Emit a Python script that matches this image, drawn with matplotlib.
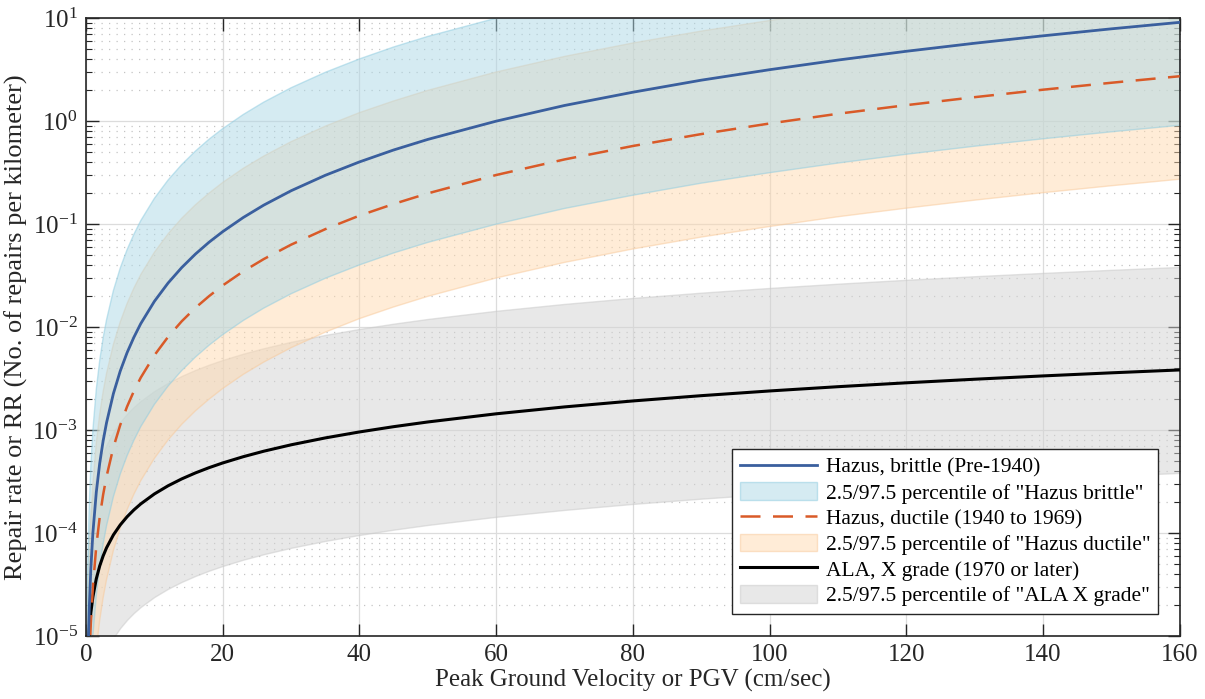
import matplotlib
matplotlib.use('Agg')
import matplotlib.pyplot as plt
from matplotlib.ticker import LogLocator, NullFormatter, MultipleLocator

plt.rcParams['font.family'] = ['Liberation Serif', 'DejaVu Serif']
plt.rcParams['mathtext.fontset'] = 'custom'
plt.rcParams['mathtext.rm'] = 'Liberation Serif'
plt.rcParams['mathtext.it'] = 'Liberation Serif:italic'

# PGV в см/с
pgv = [0.1, 0.15, 0.2, 0.25, 0.3, 0.4, 0.5, 0.7, 1, 1.5, 2, 2.5, 3, 4, 5, 6, 7, 8,
       10, 12, 14, 16, 18, 20, 23, 26, 30, 35, 40, 45, 50, 60, 70, 80, 90, 100,
       110, 120, 130, 140, 150, 160]

# Hazus, brittle (до 1940)
brittle = [5.62e-7, 1.40e-6, 2.68e-6, 4.42e-6, 6.66e-6, 1.27e-5, 2.10e-5, 4.48e-5,
           1.00e-4, 2.49e-4, 4.76e-4, 7.86e-4, 1.18e-3, 2.26e-3, 3.74e-3, 5.64e-3,
           7.97e-3, 1.08e-2, 1.78e-2, 2.68e-2, 3.79e-2, 5.12e-2, 6.68e-2, 8.46e-2,
           0.116, 0.153, 0.211, 0.298, 0.402, 0.525, 0.665, 1.00, 1.42, 1.91, 2.50,
           3.16, 3.92, 4.77, 5.71, 6.74, 7.88, 9.11]
brittle_lo = [5.62e-8, 1.40e-7, 2.68e-7, 4.42e-7, 6.66e-7, 1.27e-6, 2.10e-6, 4.48e-6,
              1.00e-5, 2.49e-5, 4.76e-5, 7.86e-5, 1.18e-4, 2.26e-4, 3.74e-4, 5.64e-4,
              7.97e-4, 1.08e-3, 1.78e-3, 2.68e-3, 3.79e-3, 5.12e-3, 6.68e-3, 8.46e-3,
              0.0116, 0.0153, 0.0211, 0.0298, 0.0402, 0.0525, 0.0665, 0.100, 0.142,
              0.191, 0.250, 0.316, 0.392, 0.477, 0.571, 0.674, 0.788, 0.911]
brittle_hi = [5.62e-6, 1.40e-5, 2.68e-5, 4.42e-5, 6.66e-5, 1.27e-4, 2.10e-4, 4.48e-4,
              1.00e-3, 2.49e-3, 4.76e-3, 7.86e-3, 1.18e-2, 2.26e-2, 3.74e-2, 5.64e-2,
              7.97e-2, 0.108, 0.178, 0.268, 0.379, 0.512, 0.668, 0.846,
              1.16, 1.53, 2.11, 2.98, 4.02, 5.25, 6.65, 10.0, 14.2, 19.1, 25.0,
              31.6, 39.2, 47.7, 57.1, 67.4, 78.8, 91.1]

# Hazus, ductile (1940-1969)
ductile = [1.69e-7, 4.20e-7, 8.03e-7, 1.33e-6, 2.00e-6, 3.82e-6, 6.31e-6, 1.34e-5,
           3.00e-5, 7.47e-5, 1.43e-4, 2.36e-4, 3.55e-4, 6.79e-4, 1.12e-3, 1.69e-3,
           2.39e-3, 3.23e-3, 5.33e-3, 8.04e-3, 1.14e-2, 1.54e-2, 2.00e-2, 2.54e-2,
           3.48e-2, 4.58e-2, 6.32e-2, 8.94e-2, 0.121, 0.157, 0.199, 0.300, 0.425,
           0.574, 0.749, 0.949, 1.18, 1.43, 1.71, 2.02, 2.36, 2.73]
ductile_lo = [1.69e-8, 4.20e-8, 8.03e-8, 1.33e-7, 2.00e-7, 3.82e-7, 6.31e-7, 1.34e-6,
              3.00e-6, 7.47e-6, 1.43e-5, 2.36e-5, 3.55e-5, 6.79e-5, 1.12e-4, 1.69e-4,
              2.39e-4, 3.23e-4, 5.33e-4, 8.04e-4, 1.14e-3, 1.54e-3, 2.00e-3, 2.54e-3,
              3.48e-3, 4.58e-3, 6.32e-3, 8.94e-3, 0.0121, 0.0157, 0.0199, 0.0300,
              0.0425, 0.0574, 0.0749, 0.0949, 0.118, 0.143, 0.171, 0.202, 0.236, 0.273]
ductile_hi = [1.69e-6, 4.20e-6, 8.03e-6, 1.33e-5, 2.00e-5, 3.82e-5, 6.31e-5, 1.34e-4,
              3.00e-4, 7.47e-4, 1.43e-3, 2.36e-3, 3.55e-3, 6.79e-3, 1.12e-2, 1.69e-2,
              2.39e-2, 3.23e-2, 5.33e-2, 8.04e-2, 0.114, 0.154, 0.200, 0.254,
              0.348, 0.458, 0.632, 0.894, 1.21, 1.57, 1.99, 3.00, 4.25,
              5.74, 7.49, 9.49, 11.8, 14.3, 17.1, 20.2, 23.6, 27.3]

# ALA, X grade (1970 и позже)
ala = [2.4e-6, 3.6e-6, 4.8e-6, 6.0e-6, 7.2e-6, 9.6e-6, 1.2e-5, 1.68e-5,
       2.4e-5, 3.6e-5, 4.8e-5, 6.0e-5, 7.2e-5, 9.6e-5, 1.2e-4, 1.44e-4,
       1.68e-4, 1.92e-4, 2.4e-4, 2.88e-4, 3.36e-4, 3.84e-4, 4.32e-4, 4.8e-4,
       5.52e-4, 6.24e-4, 7.2e-4, 8.4e-4, 9.6e-4, 1.08e-3, 1.2e-3, 1.44e-3,
       1.68e-3, 1.92e-3, 2.16e-3, 2.4e-3, 2.64e-3, 2.88e-3, 3.12e-3, 3.36e-3,
       3.6e-3, 3.84e-3]
ala_lo = [2.4e-7, 3.6e-7, 4.8e-7, 6.0e-7, 7.2e-7, 9.6e-7, 1.2e-6, 1.68e-6,
          2.4e-6, 3.6e-6, 4.8e-6, 6.0e-6, 7.2e-6, 9.6e-6, 1.2e-5, 1.44e-5,
          1.68e-5, 1.92e-5, 2.4e-5, 2.88e-5, 3.36e-5, 3.84e-5, 4.32e-5, 4.8e-5,
          5.52e-5, 6.24e-5, 7.2e-5, 8.4e-5, 9.6e-5, 1.08e-4, 1.2e-4, 1.44e-4,
          1.68e-4, 1.92e-4, 2.16e-4, 2.4e-4, 2.64e-4, 2.88e-4, 3.12e-4, 3.36e-4,
          3.6e-4, 3.84e-4]
ala_hi = [2.4e-5, 3.6e-5, 4.8e-5, 6.0e-5, 7.2e-5, 9.6e-5, 1.2e-4, 1.68e-4,
          2.4e-4, 3.6e-4, 4.8e-4, 6.0e-4, 7.2e-4, 9.6e-4, 1.2e-3, 1.44e-3,
          1.68e-3, 1.92e-3, 2.4e-3, 2.88e-3, 3.36e-3, 3.84e-3, 4.32e-3, 4.8e-3,
          5.52e-3, 6.24e-3, 7.2e-3, 8.4e-3, 9.6e-3, 1.08e-2, 1.2e-2, 1.44e-2,
          1.68e-2, 1.92e-2, 2.16e-2, 2.4e-2, 2.64e-2, 2.88e-2, 3.12e-2, 3.36e-2,
          3.6e-2, 3.84e-2]

fig = plt.figure(figsize=(12.05, 6.99), dpi=100)
ax = fig.add_axes([0.0714, 0.090, 0.9076, 0.884])

# Полосы 2.5/97.5 перцентилей
band_ala = ax.fill_between(pgv, ala_lo, ala_hi, facecolor='#d3d3d3', edgecolor='#c8c8c8',
                           alpha=0.5, lw=1, zorder=2)
band_duc = ax.fill_between(pgv, ductile_lo, ductile_hi, facecolor='#ffdab0', edgecolor='#f8c898',
                           alpha=0.5, lw=1, zorder=2)
band_brt = ax.fill_between(pgv, brittle_lo, brittle_hi, facecolor='#add8e6', edgecolor='#8ccbe0',
                           alpha=0.5, lw=1, zorder=2)

# Медианные кривые
l_ala, = ax.plot(pgv, ala, color='black', lw=2.2, zorder=4)
l_duc, = ax.plot(pgv, ductile, color='#d95a28', lw=1.8, dashes=(8, 5), zorder=4)
l_brt, = ax.plot(pgv, brittle, color='#3a5f9e', lw=2.0, zorder=4)

ax.set_yscale('log')
ax.set_xlim(0, 160)
ax.set_ylim(1e-5, 1e1)
ax.xaxis.set_major_locator(MultipleLocator(20))
ax.yaxis.set_major_locator(LogLocator(base=10, numticks=20))
ax.yaxis.set_minor_locator(LogLocator(base=10, subs=range(2, 10), numticks=20))
ax.yaxis.set_minor_formatter(NullFormatter())

ax.grid(True, which='major', color='#dcdcdc', lw=0.9, ls='-', zorder=1)
ax.grid(True, which='minor', axis='y', color='#c4c4c4', lw=0.9, ls=(0, (1, 5)), zorder=1)
ax.set_axisbelow(True)

ax.tick_params(which='both', direction='in', top=True, right=True, colors='#262626',
               labelsize=18, labelcolor='#262626', pad=6)
ax.tick_params(which='major', length=9, width=1)
ax.tick_params(which='minor', length=4, width=0.8)
for s in ax.spines.values():
    s.set_color('#262626')
    s.set_linewidth(1.2)

ax.set_xlabel('Peak Ground Velocity or PGV (cm/sec)', fontsize=18, color='#262626', labelpad=2)
ax.set_ylabel('Repair rate or RR (No. of repairs per kilometer)', fontsize=19, color='#262626',
              labelpad=3)

handles = [l_brt, band_brt, l_duc, band_duc, l_ala, band_ala]
labels = ['Hazus, brittle (Pre-1940)',
          '2.5/97.5 percentile of "Hazus brittle"',
          'Hazus, ductile (1940 to 1969)',
          '2.5/97.5 percentile of "Hazus ductile"',
          'ALA, X grade (1970 or later)',
          '2.5/97.5 percentile of "ALA X grade"']
leg = ax.legend(handles, labels, loc='lower right', bbox_to_anchor=(0.98, 0.036),
                fontsize=15.5, fancybox=False, framealpha=1, edgecolor='#262626',
                handlelength=3.6, handleheight=0.9, handletextpad=0.4,
                labelspacing=0.2, borderpad=0.35, borderaxespad=0)
leg.get_frame().set_linewidth(1.0)
leg.set_zorder(10)

plt.savefig('out.png', dpi=100)
